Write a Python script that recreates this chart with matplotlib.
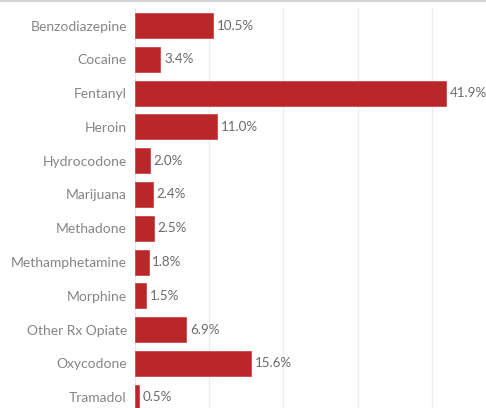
import matplotlib
matplotlib.use("Agg")
import matplotlib.pyplot as plt
from matplotlib.lines import Line2D

drugs = ["Benzodiazepine", "Cocaine", "Fentanyl", "Heroin", "Hydrocodone",
         "Marijuana", "Methadone", "Methamphetamine", "Morphine",
         "Other Rx Opiate", "Oxycodone", "Tramadol"]
share = [10.5, 3.4, 41.9, 11.0, 2.0, 2.4, 2.5, 1.8, 1.5, 6.9, 15.6, 0.5]

BAR = "#b9272b"
TXT = "#858585"

plt.rcParams["font.family"] = ["Lato", "DejaVu Sans"]

W, H = 486, 408
fig = plt.figure(figsize=(W / 100, H / 100), dpi=100)
x0, x1 = 135.2, 486
y_top, y_bot = 8, 408
ax = fig.add_axes([x0 / W, 1 - y_bot / H, (x1 - x0) / W, (y_bot - y_top) / H])

pos = list(range(len(drugs)))
ax.barh(pos, share, height=0.74, color=BAR, edgecolor="#c9494c", linewidth=0.6, zorder=3)

px_per_unit = 74.1 / 10
ax.set_xlim(0, (x1 - x0) / px_per_unit)
ax.set_ylim(11.32, -0.518)

for p, v in zip(pos, share):
    ax.text(v + 0.5, p, f"{v:.1f}%", va="center", ha="left",
            fontsize=9.6, color="#6a6a6a", zorder=4)

ax.set_yticks(pos)
ax.set_yticklabels(drugs, fontsize=10, color=TXT)
ax.tick_params(axis="y", length=0, pad=6)
ax.set_xticks([10, 20, 30, 40])
ax.tick_params(axis="x", length=0, labelbottom=False)
ax.grid(axis="x", color="#ececec", linewidth=1, zorder=0)
ax.axvline(0, color="#e6e6e6", linewidth=1, zorder=1)
for s in ax.spines.values():
    s.set_visible(False)

# thin border along the top edge
fig.add_artist(Line2D([0, 1], [1 - 1 / H, 1 - 1 / H], transform=fig.transFigure,
                      color="#d4d4d4", linewidth=1.5))

fig.savefig("out.png", dpi=100)
